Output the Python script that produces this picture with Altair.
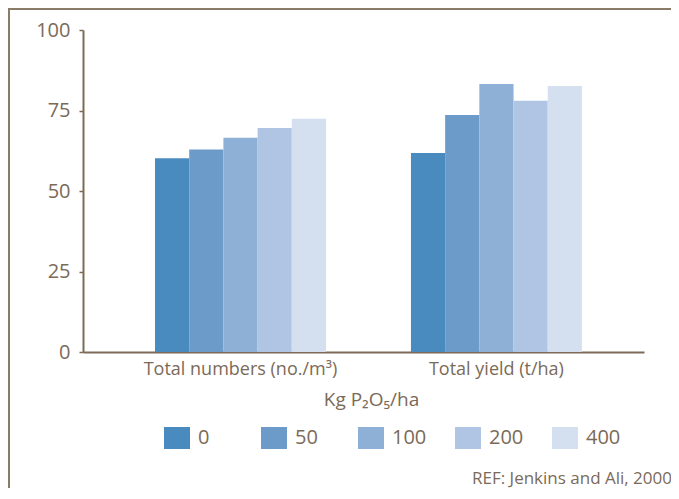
import altair as alt
import pandas as pd

groups = ["Total numbers (no./m³)", "Total yield (t/ha)"]
levels = ["0", "50", "100", "200", "400"]
total_numbers = [60.2, 62.9, 66.5, 69.6, 72.4]
total_yield = [61.8, 73.6, 83.2, 78.0, 82.6]
colors = ["#4a8bbf", "#6c9bca", "#8fb0d6", "#b0c5e3", "#d4dfef"]
y_ticks = [0, 25, 50, 75, 100]
source_note = "REF: Jenkins and Ali, 2000"

rows = []
for lvl, v in zip(levels, total_numbers):
    rows.append({"group": groups[0], "level": lvl, "value": v})
for lvl, v in zip(levels, total_yield):
    rows.append({"group": groups[1], "level": lvl, "value": v})
df = pd.DataFrame(rows)

TXT = "#7b6a58"
LINE = "#7d6b57"
FONT = "Open Sans, DejaVu Sans"

bars = alt.Chart(df).mark_bar().encode(
    x=alt.X("group:N", sort=groups,
            scale=alt.Scale(paddingInner=0.332, paddingOuter=0.262, align=0.537),
            axis=alt.Axis(title="Kg P₂O₅/ha", labelAngle=0, ticks=False,
                          domainColor=LINE, domainWidth=2, labelColor=TXT,
                          labelFontSize=18, labelFont=FONT, labelPadding=8,
                          labelLimit=0,
                          titleFont=FONT, titleFontSize=19, titleColor=TXT,
                          titleFontWeight="normal", titleX=288, titleY=53,
                          titleBaseline="alphabetic", titleAlign="center")),
    xOffset=alt.XOffset("level:N", sort=levels,
                        scale=alt.Scale(paddingInner=0, paddingOuter=0)),
    y=alt.Y("value:Q", scale=alt.Scale(domain=[0, 100], nice=False),
            axis=alt.Axis(title=None, values=y_ticks, grid=False,
                          domainColor=LINE, domainWidth=2, tickColor=LINE,
                          tickSize=4, tickWidth=1.5, labelColor=TXT,
                          labelFontSize=20, labelFont=FONT, labelPadding=9)),
    color=alt.Color("level:N", sort=levels,
                    scale=alt.Scale(domain=levels, range=colors),
                    legend=alt.Legend(orient="none", legendX=81, legendY=395,
                                      direction="horizontal", title=None,
                                      symbolType="M -1 -0.846 L 1 -0.846 L 1 0.846 L -1 0.846 Z",
                                      symbolSize=676, symbolStrokeWidth=0,
                                      symbolOpacity=1,
                                      labelFontSize=20, labelFont=FONT,
                                      labelColor=TXT, labelOffset=8,
                                      columnPadding=28, gridAlign="all",
                                      padding=0)),
)

one = alt.Data(values=[{"k": 1}])
frame = alt.Chart(one).mark_rect(fill="transparent", stroke="#8a7a68",
                                 strokeWidth=2).encode(
    x=alt.value(-74), x2=alt.value(640), y=alt.value(-21), y2=alt.value(520))
note = alt.Chart(one).mark_text(align="right", baseline="alphabetic",
                                fontSize=17, font=FONT, color=TXT).encode(
    x=alt.value(589), y=alt.value(454), text=alt.value(source_note))

chart = alt.layer(bars, frame, note).properties(
    width=561, height=322,
    padding={"left": 75, "top": 22, "right": 27, "bottom": 136},
    autosize="none",
).configure_view(stroke=None)

chart.save("out.html", embed_options={"renderer": "svg", "actions": False})
